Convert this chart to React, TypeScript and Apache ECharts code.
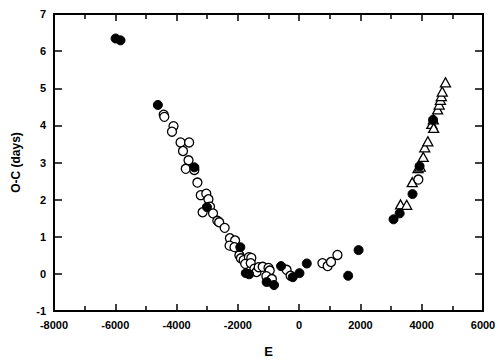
import React, { useEffect, useRef } from "react";
import * as echarts from "echarts";

const filledCircles: [number, number][] = [
  [-5990, 6.34], [-5830, 6.29], [-4610, 4.55], [-3420, 2.87], [-3010, 1.8],
  [-1920, 0.72], [-1740, 0.02], [-1630, -0.01], [-1060, -0.22], [-820, -0.3],
  [-590, 0.21], [-210, -0.09], [10, 0.02], [250, 0.28], [1600, -0.05],
  [1940, 0.64], [3080, 1.47], [3280, 1.63], [3700, 2.15], [3930, 2.9], [4370, 4.15],
];

const openCircles: [number, number][] = [
  [-4420, 4.29], [-4400, 4.23], [-4100, 3.98], [-4150, 3.83], [-3870, 3.54],
  [-3590, 3.54], [-3790, 3.31], [-3610, 3.06], [-3700, 2.83], [-3420, 2.8],
  [-3320, 2.46], [-3210, 2.12], [-3030, 2.16], [-2960, 2.01], [-2910, 1.81],
  [-3150, 1.66], [-2810, 1.63], [-2670, 1.43], [-2610, 1.39], [-2430, 1.24],
  [-2260, 0.96], [-2090, 0.9], [-2270, 0.76], [-2110, 0.72], [-1950, 0.5],
  [-1900, 0.42], [-1810, 0.37], [-1640, 0.45], [-1560, 0.43], [-1760, 0.27],
  [-1580, 0.29], [-1460, 0.14], [-1390, 0.05], [-1320, 0.18], [-1190, 0.19],
  [-1000, 0.16], [-960, 0.09], [-1070, -0.06], [-890, -0.14], [-410, 0.11],
  [-280, -0.05], [760, 0.29], [930, 0.21], [1040, 0.32], [1250, 0.51], [3890, 2.54],
];

const triangles: [number, number][] = [
  [3310, 1.87], [3510, 1.86], [3690, 2.47], [3880, 2.85], [3950, 2.89],
  [4050, 3.15], [4100, 3.41], [4200, 3.57], [4330, 4.04], [4390, 3.93],
  [4380, 4.16], [4520, 4.43], [4570, 4.56], [4610, 4.69], [4640, 4.79],
  [4670, 4.91], [4775, 5.16],
];

const xMin = -8000;
const xMax = 6000;
const yMin = -1;
const yMax = 7;

const FONT = "Liberation Sans, Arial, sans-serif";

export default function App() {
  const ref = useRef<HTMLDivElement>(null);
  useEffect(() => {
    if (!ref.current) return;
    const chart = echarts.init(ref.current, null, { renderer: "svg" });
    const axisLine = { show: true, onZero: false, lineStyle: { color: "#000", width: 2 } };
    const label = { color: "#000", fontFamily: FONT, fontWeight: "bold" as const, fontSize: 11 };
    const tick = (len: number) => ({ show: true, inside: true, length: len, lineStyle: { color: "#000", width: 1.5 } });
    chart.setOption({
      animation: false,
      backgroundColor: "#fff",
      grid: { left: 54, right: 17, top: 14, bottom: 50, containLabel: false },
      xAxis: [
        {
          type: "value", min: xMin, max: xMax, interval: 2000, position: "bottom",
          axisLine, splitLine: { show: false },
          axisTick: tick(7),
          minorTick: { show: true, splitNumber: 2, length: 5, lineStyle: { color: "#000", width: 1.5 } },
          axisLabel: { ...label, margin: 8, formatter: (v: number) => String(v) },
          name: "E", nameLocation: "middle", nameGap: 34,
          nameTextStyle: { color: "#000", fontFamily: FONT, fontWeight: "bold", fontSize: 13 },
        },
        {
          type: "value", min: xMin, max: xMax, interval: 2000, position: "top",
          axisLine, splitLine: { show: false },
          axisTick: tick(7),
          minorTick: { show: true, splitNumber: 2, length: 5, lineStyle: { color: "#000", width: 1.5 } },
          axisLabel: { show: false },
        },
      ],
      yAxis: [
        {
          type: "value", min: yMin, max: yMax, interval: 1, position: "left",
          axisLine, splitLine: { show: false },
          axisTick: tick(8),
          axisLabel: { ...label, margin: 8, formatter: (v: number) => String(v) },
          name: "O-C (days)", nameLocation: "middle", nameGap: 32,
          nameTextStyle: { color: "#000", fontFamily: FONT, fontWeight: "bold", fontSize: 12 },
        },
        {
          type: "value", min: yMin, max: yMax, interval: 1, position: "right",
          axisLine, splitLine: { show: false },
          axisTick: tick(8),
          axisLabel: { show: false },
        },
      ],
      series: [
        {
          type: "scatter", name: "open", data: openCircles, symbol: "circle", symbolSize: 9,
          itemStyle: { color: "#fff", borderColor: "#000", borderWidth: 1.3, opacity: 1 },
          xAxisIndex: 0, yAxisIndex: 0,
        },
        {
          type: "scatter", name: "triangle", data: triangles, symbol: "triangle", symbolSize: [10, 9],
          itemStyle: { color: "#fff", borderColor: "#000", borderWidth: 1.3, opacity: 1 },
          xAxisIndex: 0, yAxisIndex: 0,
        },
        {
          type: "scatter", name: "filled", data: filledCircles, symbol: "circle", symbolSize: 9,
          itemStyle: { color: "#000", borderColor: "#000", borderWidth: 1, opacity: 1 },
          xAxisIndex: 0, yAxisIndex: 0,
        },
      ],
    });
    return () => chart.dispose();
  }, []);
  return <div ref={ref} style={{ width: 500, height: 363, position: "absolute", left: 0, top: 0 }} />;
}
